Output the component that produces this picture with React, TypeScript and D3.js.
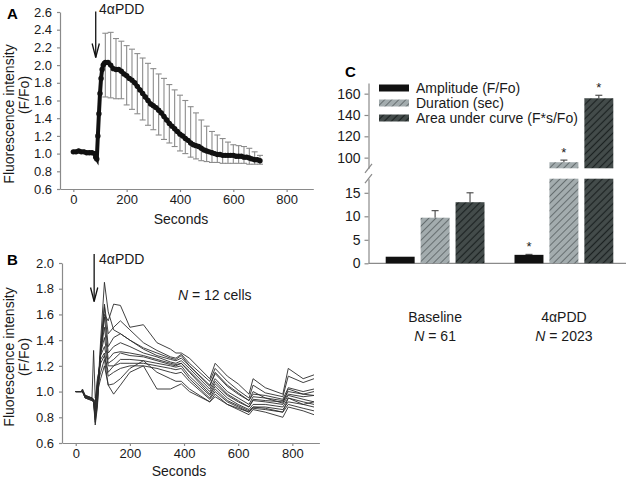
import React, { useRef, useEffect } from "react";
import * as d3 from "d3";

const W = 631;
const H = 478;
const FONT = "Liberation Sans, Arial, Helvetica, sans-serif";
const AXIS = "#8a8a8a";
const TEXT = "#1a1a1a";

// ---- panel A: mean response (F/Fo) ----
const timesA = [0, 10, 20, 30, 40, 50, 60, 70, 80, 84, 88, 92, 96, 100, 104, 108, 112, 116, 120, 130, 140, 150, 160, 170, 180, 190, 200, 210, 220, 230, 240, 250, 260, 270, 280, 290, 300, 310, 320, 330, 340, 350, 360, 370, 380, 390, 400, 410, 420, 430, 440, 450, 460, 470, 480, 490, 500, 510, 520, 530, 540, 550, 560, 570, 580, 590, 600, 610, 620, 630, 640, 650, 660, 670, 680, 690, 700];
const meanA = [1.02, 1.02, 1.03, 1.02, 1.02, 1.01, 1.01, 1.01, 1.0, 0.96, 0.94, 1.2, 1.45, 1.68, 1.85, 1.95, 2.0, 2.02, 2.03, 2.03, 2.0, 1.96, 1.95, 1.95, 1.93, 1.9, 1.88, 1.85, 1.83, 1.8, 1.76, 1.72, 1.68, 1.64, 1.6, 1.56, 1.54, 1.52, 1.49, 1.46, 1.42, 1.38, 1.34, 1.31, 1.28, 1.25, 1.22, 1.2, 1.17, 1.15, 1.12, 1.1, 1.09, 1.08, 1.06, 1.04, 1.03, 1.02, 1.01, 1.0, 0.99, 0.99, 0.98, 0.98, 0.98, 0.98, 0.98, 0.97, 0.97, 0.97, 0.96, 0.96, 0.95, 0.94, 0.93, 0.93, 0.92];
const errTimesA = [120, 140, 160, 180, 200, 220, 240, 260, 280, 300, 320, 340, 360, 380, 400, 420, 440, 460, 480, 500, 520, 540, 560, 580, 600, 620, 640, 660, 680, 700];
const errTopA = [2.36, 2.37, 2.3, 2.27, 2.22, 2.18, 2.13, 2.08, 2.02, 1.96, 1.9, 1.85, 1.78, 1.72, 1.66, 1.6, 1.53, 1.46, 1.38, 1.31, 1.25, 1.21, 1.17, 1.13, 1.1, 1.09, 1.08, 1.06, 1.02, 0.98];
const errBottomA = [1.64, 1.63, 1.62, 1.62, 1.55, 1.5, 1.45, 1.38, 1.32, 1.27, 1.21, 1.16, 1.12, 1.08, 1.03, 1.0, 0.96, 0.94, 0.92, 0.91, 0.9, 0.9, 0.89, 0.89, 0.89, 0.89, 0.89, 0.88, 0.88, 0.88];
const addTimeA = 84;
const yTicksA = [0.6, 0.8, 1.0, 1.2, 1.4, 1.6, 1.8, 2.0, 2.2, 2.4, 2.6];

// ---- panel B: single cells ----
const timesB = [0, 20, 25, 35, 60, 66, 72, 80, 92, 106, 120, 140, 165, 200, 250, 300, 350, 370, 390, 420, 495, 515, 560, 600, 640, 655, 700, 765, 785, 840, 880];
const cell1 = [1.0, 1.0, 1.02, 0.97, 0.95, 0.93, 0.78, 0.95, 1.4, 1.85, 1.62, 1.48, 1.45, 1.4, 1.34, 1.3, 1.26, 1.25, 1.28, 1.2, 1.05, 1.15, 1.05, 0.99, 0.93, 1.0, 0.95, 0.91, 1.02, 0.98, 0.97];
const cell2 = [1.0, 1.0, 1.0, 0.96, 0.94, 0.92, 0.8, 0.92, 1.3, 1.6, 1.55, 1.68, 1.67, 1.5, 1.52, 1.38, 1.33, 1.3, 1.3, 1.26, 1.1, 1.22, 1.12, 1.06, 0.98, 1.1, 1.03, 0.98, 1.18, 1.1, 1.13];
const cell3 = [1.0, 1.0, 1.01, 0.96, 0.95, 0.93, 0.76, 0.9, 1.35, 1.68, 1.45, 1.5, 1.55, 1.48, 1.38, 1.32, 1.27, 1.26, 1.29, 1.22, 1.08, 1.18, 1.08, 1.01, 0.95, 1.05, 0.99, 0.96, 1.12, 1.07, 1.1];
const cell4 = [1.0, 1.0, 1.0, 0.95, 0.94, 0.92, 0.74, 0.88, 1.3, 1.66, 1.35, 1.42, 1.45, 1.4, 1.33, 1.28, 1.25, 1.24, 1.26, 1.2, 1.04, 1.14, 1.04, 0.98, 0.93, 0.98, 0.97, 0.94, 1.03, 1.0, 1.02];
const cell5 = [1.0, 1.0, 1.0, 0.97, 0.95, 0.94, 0.82, 0.95, 1.3, 1.58, 1.3, 1.35, 1.38, 1.35, 1.3, 1.27, 1.23, 1.22, 1.24, 1.18, 1.02, 1.1, 1.0, 0.95, 0.9, 0.96, 0.95, 0.93, 1.0, 0.98, 1.0];
const cell6 = [1.0, 1.0, 1.0, 0.96, 0.94, 0.93, 0.85, 1.0, 1.3, 1.5, 1.25, 1.3, 1.31, 1.3, 1.28, 1.25, 1.22, 1.21, 1.22, 1.16, 1.0, 1.08, 0.98, 0.93, 0.88, 0.94, 0.93, 0.92, 0.98, 0.96, 0.97];
const cell7 = [1.0, 1.0, 1.01, 0.97, 0.95, 0.94, 0.86, 1.02, 1.3, 1.42, 1.22, 1.25, 1.3, 1.28, 1.27, 1.24, 1.21, 1.2, 1.22, 1.15, 0.98, 1.06, 0.97, 0.92, 0.88, 0.93, 0.92, 0.9, 0.97, 0.94, 0.92];
const cell8 = [1.0, 1.0, 1.0, 0.95, 0.93, 0.92, 0.88, 1.05, 1.28, 1.35, 1.2, 1.2, 1.25, 1.25, 1.24, 1.22, 1.2, 1.19, 1.2, 1.12, 0.97, 1.04, 0.95, 0.9, 0.86, 0.9, 0.9, 0.88, 0.95, 0.92, 0.9];
const cell9 = [1.0, 1.0, 1.01, 0.96, 0.94, 0.93, 0.9, 1.08, 1.25, 1.3, 1.15, 1.2, 1.22, 1.22, 1.22, 1.2, 1.18, 1.17, 1.18, 1.1, 0.95, 1.02, 0.93, 0.89, 0.85, 0.88, 0.88, 0.86, 0.92, 0.9, 0.88];
const cell10 = [1.0, 1.0, 1.0, 0.96, 0.95, 0.94, 0.92, 1.1, 1.22, 1.28, 1.12, 1.15, 1.18, 1.2, 1.2, 1.18, 1.15, 1.14, 1.15, 1.08, 0.94, 1.0, 0.92, 0.88, 0.84, 0.87, 0.86, 0.84, 0.9, 0.87, 0.85];
const cell11 = [1.0, 1.0, 1.0, 0.95, 0.93, 0.92, 0.9, 1.05, 1.15, 1.25, 1.05, 1.06, 1.1, 1.18, 1.24, 1.15, 1.1, 1.08, 1.08, 1.02, 0.92, 0.98, 0.9, 0.86, 0.82, 0.86, 0.84, 0.8, 0.88, 0.85, 0.82];
const cell12 = [1.0, 1.0, 1.0, 0.96, 0.95, 1.32, 0.95, 1.0, 1.1, 1.2, 1.05, 0.98, 1.05, 1.15, 1.2, 1.02, 1.02, 1.04, 1.06, 1.0, 0.92, 0.96, 0.9, 0.87, 0.84, 0.88, 0.87, 0.84, 0.95, 0.9, 0.92];
const cellsB = [cell1, cell2, cell3, cell4, cell5, cell6, cell7, cell8, cell9, cell10, cell11, cell12];
const addTimeB = 68;
const yTicksB = [0.6, 0.8, 1.0, 1.2, 1.4, 1.6, 1.8, 2.0];
const secondsTicks = [0, 200, 400, 600, 800];

// ---- panel C: summary bars ----
const groupsC = ["Baseline", "4\u03b1PDD"];
const groupNC = ["61", "2023"];
const seriesC = ["Amplitude (F/Fo)", "Duration (sec)", "Area under curve (F*s/Fo)"];
const amplitudeC = [1.4, 1.8];
const amplitudeErrC = [0, 0.1];
const durationC = [9.7, 95.7];
const durationErrC = [1.5, 2.0];
const areaC = [13.0, 155.7];
const areaErrC = [2.0, 2.8];
const signifC = [false, true];
const lowTicksC = [0, 5, 10, 15];
const highTicksC = [100, 120, 140, 160];

const styleAxis = (g: any, size: number) => {
    g.select(".domain").attr("stroke", AXIS).attr("stroke-width", 1.2);
    g.selectAll(".tick line").attr("stroke", AXIS).attr("stroke-width", 1.2);
    g.selectAll(".tick text").attr("fill", TEXT).attr("font-size", size).attr("font-family", FONT);
};

const drawArrow = (svg: any, x: number, y1: number, y2: number) => {
    svg.append("line").attr("x1", x).attr("x2", x).attr("y1", y1).attr("y2", y2)
        .attr("stroke", "#111").attr("stroke-width", 1.3);
    svg.append("path").attr("d", `M${x - 3.6},${y2 - 14} L${x},${y2} L${x + 3.6},${y2 - 14}`)
        .attr("fill", "none").attr("stroke", "#111").attr("stroke-width", 1.3);
};

const yTitle = (svg: any, cy1: number, cy2: number) => {
    svg.append("text").attr("transform", `translate(13.5,${cy1}) rotate(-90)`)
        .attr("text-anchor", "middle").attr("font-size", 14).attr("fill", TEXT)
        .text("Fluorescence intensity");
    svg.append("text").attr("transform", `translate(29,${cy2}) rotate(-90)`)
        .attr("text-anchor", "middle").attr("font-size", 14).attr("fill", TEXT)
        .text("(F/Fo)");
};

export default function App() {
    const ref = useRef<HTMLDivElement>(null);

    useEffect(() => {
        if (!ref.current) return;
        d3.select(ref.current).selectAll("*").remove();
        const svg = d3.select(ref.current).append("svg")
            .attr("width", W).attr("height", H)
            .attr("viewBox", `0 0 ${W} ${H}`)
            .attr("font-family", FONT)
            .style("position", "absolute").style("left", "0px").style("top", "0px")
            .style("background", "#fff");

        // hatch patterns
        const defs = svg.append("defs");
        const hatch = (id: string, bg: string, fg: string, sw: number) => {
            const p = defs.append("pattern").attr("id", id).attr("patternUnits", "userSpaceOnUse")
                .attr("width", 5).attr("height", 5).attr("patternTransform", "rotate(45)");
            p.append("rect").attr("width", 5).attr("height", 5).attr("fill", bg);
            p.append("line").attr("x1", 2.5).attr("x2", 2.5).attr("y1", 0).attr("y2", 5)
                .attr("stroke", fg).attr("stroke-width", sw);
        };
        hatch("hatchLight", "#a3acae", "#666e70", 1);
        hatch("hatchDark", "#444c4b", "#1c2222", 1.2);

        // ================= A =================
        const xA = d3.scaleLinear().domain([-50, 900]).range([60, 313.3]);
        const yA = d3.scaleLinear().domain([0.6, 2.6]).range([189, 12]);

        svg.append("g").attr("transform", "translate(0,189)")
            .call(d3.axisBottom(xA).tickValues(secondsTicks).tickSize(3).tickSizeOuter(0).tickPadding(3))
            .call((g: any) => styleAxis(g, 13));
        svg.append("g").attr("transform", "translate(60,0)")
            .call(d3.axisLeft(yA).tickValues(yTicksA).tickFormat(d3.format(".1f")).tickSize(3).tickSizeOuter(0).tickPadding(5))
            .call((g: any) => styleAxis(g, 13));

        const errG = svg.append("g").attr("stroke", "#8c8c8c").attr("stroke-width", 1.1);
        errTimesA.forEach((t, i) => {
            const x = xA(t);
            errG.append("line").attr("x1", x).attr("x2", x).attr("y1", yA(errBottomA[i])).attr("y2", yA(errTopA[i]));
            errG.append("line").attr("x1", x - 3).attr("x2", x + 3).attr("y1", yA(errTopA[i])).attr("y2", yA(errTopA[i]));
            errG.append("line").attr("x1", x - 3).attr("x2", x + 3).attr("y1", yA(errBottomA[i])).attr("y2", yA(errBottomA[i]));
        });

        const lineA = d3.line<number>().x((d, i) => xA(timesA[i])).y(d => yA(d));
        svg.append("path").datum(meanA).attr("d", lineA).attr("fill", "none")
            .attr("stroke", "#111").attr("stroke-width", 4);
        svg.append("g").selectAll("circle").data(meanA).join("circle")
            .attr("cx", (d, i) => xA(timesA[i])).attr("cy", d => yA(d)).attr("r", 2.7).attr("fill", "#111");

        drawArrow(svg, xA(addTimeA), 11.5, 57.5);
        svg.append("text").attr("x", 99).attr("y", 14).attr("font-size", 14).attr("fill", TEXT).text("4\u03b1PDD");
        svg.append("text").attr("x", 181).attr("y", 223.5).attr("text-anchor", "middle")
            .attr("font-size", 14).attr("fill", TEXT).text("Seconds");
        yTitle(svg, 114, 95);
        svg.append("text").attr("x", 7).attr("y", 18.5).attr("font-size", 15).attr("font-weight", "bold").text("A");

        // ================= B =================
        const xB = d3.scaleLinear().domain([-50, 900]).range([62.2, 319.4]);
        const yB = d3.scaleLinear().domain([0.6, 2.0]).range([443, 263]);

        svg.append("g").attr("transform", "translate(0,443)")
            .call(d3.axisBottom(xB).tickValues(secondsTicks).tickSize(3).tickSizeOuter(0).tickPadding(3))
            .call((g: any) => styleAxis(g, 13));
        svg.append("g").attr("transform", "translate(62,0)")
            .call(d3.axisLeft(yB).tickValues(yTicksB).tickFormat(d3.format(".1f")).tickSize(3).tickSizeOuter(0).tickPadding(5))
            .call((g: any) => styleAxis(g, 13));

        const lineB = d3.line<number>().x((d, i) => xB(timesB[i])).y(d => yB(d));
        svg.append("g").selectAll("path").data(cellsB).join("path")
            .attr("d", d => lineB(d)).attr("fill", "none")
            .attr("stroke", "#2b2b2b").attr("stroke-width", 0.9).attr("stroke-linejoin", "round");

        drawArrow(svg, xB(addTimeB), 254, 301.5);
        svg.append("text").attr("x", 99).attr("y", 264).attr("font-size", 14).attr("fill", TEXT).text("4\u03b1PDD");
        const nText = svg.append("text").attr("x", 178).attr("y", 300).attr("font-size", 14).attr("fill", TEXT);
        nText.append("tspan").attr("font-style", "italic").text("N");
        nText.append("tspan").text(" = 12 cells");
        svg.append("text").attr("x", 179).attr("y", 476).attr("text-anchor", "middle")
            .attr("font-size", 14).attr("fill", TEXT).text("Seconds");
        yTitle(svg, 357, 357);
        svg.append("text").attr("x", 7).attr("y", 265).attr("font-size", 15).attr("font-weight", "bold").text("B");

        // ================= C =================
        const axisX = 368.5;
        const yLow = d3.scaleLinear().domain([0, 18]).range([263.3, 178.7]);
        const yHigh = d3.scaleLinear().domain([90, 170]).range([168.3, 83]);
        const x0 = d3.scaleBand().domain(groupsC).range([385.7, 613.3]).paddingInner(0.233);
        const x1 = d3.scaleBand().domain(seriesC).range([0, x0.bandwidth()]).paddingInner(0.171);

        svg.append("g").attr("transform", `translate(${axisX},0)`)
            .call(d3.axisLeft(yLow).tickValues(lowTicksC).tickSize(4).tickSizeOuter(0).tickPadding(4))
            .call((g: any) => styleAxis(g, 14));
        svg.append("g").attr("transform", `translate(${axisX},0)`)
            .call(d3.axisLeft(yHigh).tickValues(highTicksC).tickSize(4).tickSizeOuter(0).tickPadding(4))
            .call((g: any) => styleAxis(g, 14));
        svg.append("line").attr("x1", axisX).attr("x2", 626).attr("y1", yLow(0)).attr("y2", yLow(0))
            .attr("stroke", AXIS).attr("stroke-width", 1.2);
        // break marks
        [yHigh(90), yLow(18)].forEach(y => {
            svg.append("line").attr("x1", axisX - 3.5).attr("x2", axisX + 3.5)
                .attr("y1", y + 4.5).attr("y2", y - 4.5).attr("stroke", AXIS).attr("stroke-width", 1.2);
        });

        const valuesC = [amplitudeC, durationC, areaC];
        const errsC = [amplitudeErrC, durationErrC, areaErrC];
        const fillsC = ["#111", "url(#hatchLight)", "url(#hatchDark)"];
        const barsG = svg.append("g");
        groupsC.forEach((grp, gi) => {
            seriesC.forEach((s, si) => {
                const v = valuesC[si][gi];
                const e = errsC[si][gi];
                const bx = (x0(grp) as number) + (x1(s) as number);
                const bw = x1.bandwidth();
                let topY: number;
                let errY: number;
                if (v > 18) {
                    topY = yHigh(v);
                    errY = yHigh(v + e);
                    barsG.append("rect").attr("x", bx).attr("y", topY).attr("width", bw)
                        .attr("height", yHigh(90) - topY).attr("fill", fillsC[si]);
                    barsG.append("rect").attr("x", bx).attr("y", yLow(18)).attr("width", bw)
                        .attr("height", yLow(0) - yLow(18)).attr("fill", fillsC[si]);
                } else {
                    topY = yLow(v);
                    errY = yLow(v + e);
                    barsG.append("rect").attr("x", bx).attr("y", topY).attr("width", bw)
                        .attr("height", yLow(0) - topY).attr("fill", fillsC[si]);
                }
                const cx = bx + bw / 2;
                if (e > 0) {
                    barsG.append("line").attr("x1", cx).attr("x2", cx).attr("y1", topY).attr("y2", errY)
                        .attr("stroke", "#444").attr("stroke-width", 1.1);
                    barsG.append("line").attr("x1", cx - 3.5).attr("x2", cx + 3.5).attr("y1", errY).attr("y2", errY)
                        .attr("stroke", "#444").attr("stroke-width", 1.1);
                }
                if (signifC[gi]) {
                    barsG.append("text").attr("x", cx).attr("y", errY - 3.5).attr("text-anchor", "middle")
                        .attr("font-size", 13).attr("fill", TEXT).text("*");
                }
            });
            const gx = (x0(grp) as number) + x0.bandwidth() / 2;
            svg.append("text").attr("x", gx).attr("y", 322).attr("text-anchor", "middle")
                .attr("font-size", 14).attr("fill", TEXT).text(grp);
            const nt = svg.append("text").attr("x", gx).attr("y", 341).attr("text-anchor", "middle")
                .attr("font-size", 14).attr("fill", TEXT);
            nt.append("tspan").attr("font-style", "italic").text("N");
            nt.append("tspan").text(` = ${groupNC[gi]}`);
        });

        // legend
        seriesC.forEach((s, si) => {
            const cy = 88 + si * 15;
            svg.append("rect").attr("x", 379).attr("y", cy - 3.5).attr("width", 30).attr("height", 7)
                .attr("fill", fillsC[si]);
            svg.append("text").attr("x", 416).attr("y", cy + 5).attr("font-size", 14).attr("fill", TEXT).text(s);
        });
        svg.append("text").attr("x", 345).attr("y", 77).attr("font-size", 15).attr("font-weight", "bold").text("C");
    }, []);

    return <div ref={ref} className="chart-container" />;
}
